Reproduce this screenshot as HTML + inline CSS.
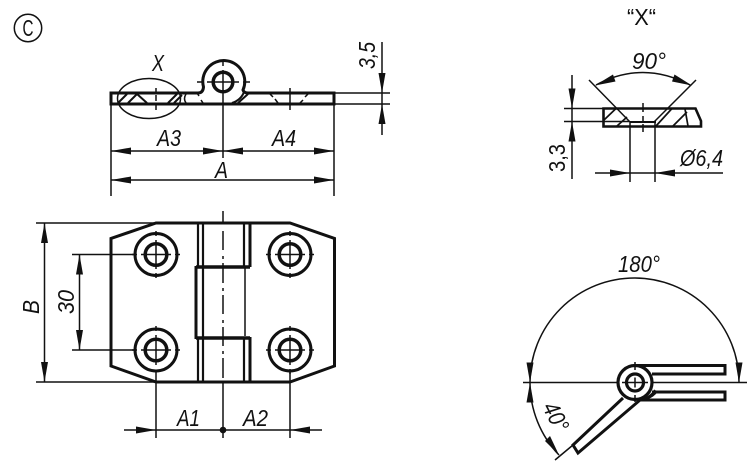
<!DOCTYPE html>
<html><head><meta charset="utf-8"><style>
html,body{margin:0;padding:0;background:#fff;width:750px;height:464px;overflow:hidden}
svg{display:block}
text{font-family:"Liberation Sans",sans-serif;font-style:italic;fill:#111;font-size:23.500px}
.n{font-style:normal}
.k{stroke:#111;fill:none;stroke-width:3}
.t{stroke:#111;fill:none;stroke-width:1.500}
.a{fill:#111;stroke:none}
</style></head><body>
<svg width="750" height="464" viewBox="0 0 750 464" xmlns="http://www.w3.org/2000/svg">
<rect width="750" height="464" fill="#fff"/>
<!-- C mark -->
<circle class="t" cx="28" cy="28" r="13.700"/>
<text class="n" x="22.500" y="36" style="font-size:23px" textLength="11" lengthAdjust="spacingAndGlyphs">C</text>

<!-- top view -->
<path class="k" d="M111,93 H198 Q203,93 203.500,87 A21,21 0 1 1 243,90 Q244,93 248,93 H334 V104 H111 Z"/>
<circle class="k" cx="223" cy="82" r="9.800" style="stroke-width:3.500"/>
<path class="t" d="M223,60 V66 M223,70 V94 M197,82 H203 M207,82 H239 M243,82 H250"/>
<ellipse class="t" cx="149" cy="98.500" rx="31.500" ry="20"/>
<path class="t" d="M156,88 V92 M156,95 V101 M156,104 V110"/>
<path class="k" style="stroke-width:2" d="M118,103 L127,94 M128,103 L137,94 L147,103 M168,103 L177,94 M174,103 L182,95"/>
<path class="t" d="M186,94 Q183,99 186,103 M197,93 L199,96 M201,100 L203,103"/>
<path class="k" style="stroke-width:2" d="M238,103 L248,94 M232,103 Q241,100 244,92"/>
<path class="t" d="M270,94 L273,97 M275,99 L278,103 M290,88 V110 M300,103 L303,100 M305,97 L308,94"/>
<!-- top dims -->
<path class="t" d="M111,93 V196 M334,93 V196 M223,94 V158 M111,151 H334 M111,180 H334 M334,93 H390 M334,104 H390 M382,42 V135"/>
<polygon class="a" points="111,151 131,147.500 131,154.500"/>
<polygon class="a" points="223,151 203,147.500 203,154.500"/>
<polygon class="a" points="223,151 243,147.500 243,154.500"/>
<polygon class="a" points="334,151 314,147.500 314,154.500"/>
<polygon class="a" points="111,180 131,176.500 131,183.500"/>
<polygon class="a" points="334,180 314,176.500 314,183.500"/>
<polygon class="a" points="382,93 378.500,73 385.500,73"/>
<polygon class="a" points="382,104 378.500,124 385.500,124"/>
<text x="152" y="71" textLength="12" lengthAdjust="spacingAndGlyphs">X</text>
<text x="157" y="146" textLength="24" lengthAdjust="spacingAndGlyphs">A3</text>
<text x="272" y="146" textLength="24" lengthAdjust="spacingAndGlyphs">A4</text>
<text x="215" y="178" textLength="13" lengthAdjust="spacingAndGlyphs">A</text>
<text transform="translate(375,69) rotate(-90)" textLength="27" lengthAdjust="spacingAndGlyphs">3,5</text>

<!-- plan view -->
<path class="k" d="M156,223 H290 L334.500,238.500 V366 L290,382 H156 L111,366 V238.500 Z"/>
<circle class="k" cx="156" cy="254.500" r="21"/><circle class="k" cx="156" cy="254.500" r="10.800" style="stroke-width:3.500"/>
<circle class="k" cx="290" cy="254.500" r="21"/><circle class="k" cx="290" cy="254.500" r="10.800" style="stroke-width:3.500"/>
<circle class="k" cx="156" cy="350" r="21"/><circle class="k" cx="156" cy="350" r="10.800" style="stroke-width:3.500"/>
<circle class="k" cx="290" cy="350" r="21"/><circle class="k" cx="290" cy="350" r="10.800" style="stroke-width:3.500"/>
<path class="t" d="M156,231 V236 M156,240 V269 M156,273 V278 M132,254.500 H137 M141,254.500 H171 M175,254.500 H180
M290,231 V236 M290,240 V269 M290,273 V278 M266,254.500 H271 M275,254.500 H305 M309,254.500 H314
M156,326 V331 M156,335 V365 M132,350 H137 M141,350 H171 M175,350 H180
M290,326 V331 M290,335 V365 M290,369 V374 M266,350 H271 M275,350 H305 M309,350 H314"/>
<!-- hinge -->
<path class="k" style="stroke-width:2.200" d="M198,223 V267 M198,338 V382 M203,223 V382 M244,223 V267 M244,338 V382"/>
<path class="t" d="M245,268 V336"/>
<path class="k" d="M250,223 V267 M250,337 V382 M196,266 V339"/>
<path class="k" style="stroke-width:3.500" d="M196,267 H250 M196,338 H250"/>
<path class="t" d="M223,211 V223 M223,231 V250 M223,256 V259 M223,263 V283 M223,288 V291 M223,295 V314 M223,320 V323 M223,327 V346 M223,351 V354 M223,358 V378 M223,382 V438"/>
<!-- plan dims -->
<path class="t" d="M36,223 H156 M36,382 H156 M44.500,223 V382 M72,254.500 H135 M72,350 H135 M79.500,254.500 V350 M156,372 V438 M290,372 V438 M124,430 H322"/>
<polygon class="a" points="44.500,223 41,243 48,243"/>
<polygon class="a" points="44.500,382 41,362 48,362"/>
<polygon class="a" points="79.500,254.500 76,274.500 83,274.500"/>
<polygon class="a" points="79.500,350 76,330 83,330"/>
<polygon class="a" points="156,430 136,426.500 136,433.500"/>
<polygon class="a" points="290,430 310,426.500 310,433.500"/>
<circle class="a" cx="223" cy="430" r="3.300"/>
<text transform="translate(39,314) rotate(-90)" textLength="14" lengthAdjust="spacingAndGlyphs">B</text>
<text transform="translate(74,314) rotate(-90)" textLength="24" lengthAdjust="spacingAndGlyphs">30</text>
<text x="177" y="426" textLength="23" lengthAdjust="spacingAndGlyphs">A1</text>
<text x="243" y="426" textLength="25" lengthAdjust="spacingAndGlyphs">A2</text>

<!-- detail X -->
<text class="n" x="627" y="25" textLength="29" lengthAdjust="spacingAndGlyphs">“X“</text>
<path class="k" style="stroke-width:2.600" d="M603.500,108.500 H695.500 L701,121 V126.500 H603.500 Z"/>
<path class="k" style="stroke-width:2" d="M630,122 H656"/>
<path class="t" d="M589,80 L630,122 M696,80 L654,122 M630,122 V182 M655,122 V182 M564,108.500 H604 M564,121.500 H630 M572,75 V179 M595,173 H723"/>
<path class="t" d="M643,103 V112 M643,116 V121 M643,124 V132"/>
<path class="k" style="stroke-width:1.700" d="M604,120 L616,108.500 M617,126 L627,117 M656,126 L672,108.500 M673,126 L687,112 M685,109 L688,126"/>
<path class="t" d="M596,85 Q642.500,60 690,85"/>
<polygon class="a" points="595,85.500 613,74.500 615.500,81.500"/>
<polygon class="a" points="692,85.500 672,81.500 674.500,74.500"/>
<polygon class="a" points="572,108.500 568.500,88.500 575.500,88.500"/>
<polygon class="a" points="572,121.500 568.500,141.500 575.500,141.500"/>
<polygon class="a" points="630,173 610,169.500 610,176.500"/>
<polygon class="a" points="655,173 675,169.500 675,176.500"/>
<text x="632" y="69" textLength="34" lengthAdjust="spacingAndGlyphs">90°</text>
<text class="n" transform="translate(565,172) rotate(-90)" textLength="28" lengthAdjust="spacingAndGlyphs">3,3</text>
<text x="680" y="166" textLength="43" lengthAdjust="spacingAndGlyphs">Ø6,4</text>

<!-- opening angles -->
<path class="k" d="M635,365.500 H725 V374 H652 M652,392 H725 V400 H640 M623,398 L573,445 L578,453 L640,400"/>
<circle fill="#fff" class="k" style="stroke-width:3.200" cx="635" cy="382.500" r="17"/>
<circle class="k" style="stroke-width:3.200" cx="635" cy="382.500" r="8.500"/>
<path class="k" style="stroke-width:2" d="M640,400 Q650,398 655,390 M646,399 Q654,396 657,391"/>
<path class="t" d="M635,362 V370 M635,377.500 V387.500 M635,395 V402 M523,382.500 H618 M622,382.500 H648 M652,382.500 H747 M630,382.500 H640"/>
<path class="t" d="M530,382.500 A104.500,104.500 0 0 1 739,382.500 M530,382.500 A104.500,104.500 0 0 0 559,455 M555,460 L573,445"/>
<polygon class="a" points="530,382.500 526.500,362.500 533.500,362.500"/>
<polygon class="a" points="739,382.500 735.500,362.500 742.500,362.500"/>
<polygon class="a" points="530,382.500 526.500,402.500 533.500,402.500"/>
<polygon class="a" points="559,455 545,441 550,436"/>
<text x="618" y="272" textLength="42" lengthAdjust="spacingAndGlyphs">180°</text>
<text transform="translate(542,407) rotate(63)" textLength="30" lengthAdjust="spacingAndGlyphs">40°</text>
</svg>
</body></html>
